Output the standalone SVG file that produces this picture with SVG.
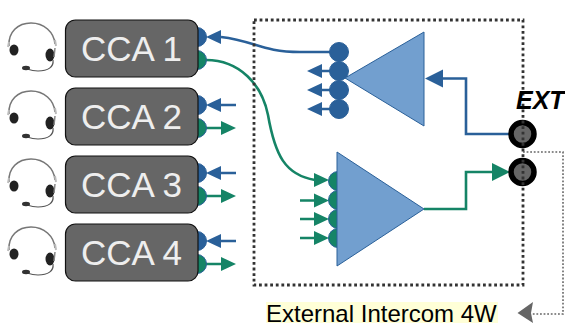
<svg xmlns="http://www.w3.org/2000/svg" width="565" height="323" viewBox="0 0 565 323">
<style>
.box{fill:#666;stroke:#111;stroke-width:1.2}
.lbl{font-family:"Liberation Sans",Arial,sans-serif;font-size:35px;fill:#eeeeee;text-anchor:middle}
.pb{fill:#2a6099;stroke:#2a6099;stroke-width:1}
.pg{fill:#158466;stroke:#2a6099;stroke-width:1}
.lb{fill:none;stroke:#2a6099;stroke-width:2.6}
.lg{fill:none;stroke:#158466;stroke-width:2.6}
.ab{fill:#2a6099}
.ag{fill:#158466}
.tri{fill:#729fcf;stroke:#2a6099;stroke-width:1}
.jack{fill:#666;stroke:#000;stroke-width:5.5}
.dot{fill:none;stroke:#333;stroke-width:2.8;stroke-dasharray:2.8 2.8}
.dot2{fill:none;stroke:#666;stroke-width:1.6;stroke-dasharray:1.8 1.8}
</style>
<defs>
<g id="hs">
<path d="M9 46C8 32 18 23 31 23C44 23 54 32 55 44" fill="none" stroke="#777" stroke-width="1.6"/>
<path d="M9 42L8 47M55 40L56 46" stroke="#bbb" stroke-width="2"/>
<ellipse cx="14" cy="50" rx="4.500" ry="5.500" fill="#222"/>
<ellipse cx="50" cy="55" rx="4.500" ry="6.500" fill="#222"/>
<path d="M55 48L54 57" stroke="#888" stroke-width="1.500"/>
<path d="M53 60C54 67 48 71 38 71C33 71 30 70 27 69" fill="none" stroke="#555" stroke-width="1.200"/>
<ellipse cx="26" cy="68" rx="4" ry="2.200" fill="#333"/>
</g>
</defs>
<g id="connectors">
<path class="lb" d="M221 37C255 41 262 52 300 52H330"/>
<path class="lb" d="M221 105H236M221 173H236M221 241H236"/>
<path class="lg" d="M206 60C240 60 262 85 268 115C275 155 285 175 315 180"/>
<path class="lg" d="M206 128H221M206 196H221M206 264H221"/>
<path class="lb" d="M322 71H339M322 90H339M322 109H339"/>
<path class="lg" d="M300 200.500H315M300 219H315M300 238H315"/>
<path class="lb" d="M442 78.500H466V134H511"/>
<path class="lg" d="M424 209H466V172H493"/>
<path class="dot2" d="M523 152H563V314H532"/>
<polygon class="ab" points="206,37 221,30 221,44"/>
<polygon class="ab" points="206,105 221,98 221,112"/>
<polygon class="ab" points="206,173 221,166 221,180"/>
<polygon class="ab" points="206,241 221,234 221,248"/>
<polygon class="ag" points="236,128 221,121 221,135"/>
<polygon class="ag" points="236,196 221,189 221,203"/>
<polygon class="ag" points="236,264 221,257 221,271"/>
<polygon class="ab" points="307,71 322,64 322,78"/>
<polygon class="ab" points="307,90 322,83 322,97"/>
<polygon class="ab" points="307,109 322,102 322,116"/>
<polygon class="ag" points="329,180 314,173 314,187"/>
<polygon class="ag" points="329,200.500 314,193.500 314,207.500"/>
<polygon class="ag" points="329,219 314,212 314,226"/>
<polygon class="ag" points="329,238 314,231 314,245"/>
<polygon class="ab" points="425,78.500 443,69.500 443,87.500"/>
<polygon class="ag" points="510,172 492,163 492,181"/>
<polygon points="517.500,313 533,302 531,313 533,323" fill="#666"/>
</g>
<g id="cca1"><use href="#hs"/><circle class="pb" cx="197" cy="37" r="9.500"/><circle class="pg" cx="197" cy="60" r="9.500"/><rect class="box" x="65.500" y="20" width="132.500" height="57" rx="10"/><text class="lbl" x="131.500" y="61">CCA 1</text></g>
<g id="cca2"><use href="#hs" y="68"/><circle class="pb" cx="197" cy="105" r="9.500"/><circle class="pg" cx="197" cy="128" r="9.500"/><rect class="box" x="65.500" y="88" width="132.500" height="57" rx="10"/><text class="lbl" x="131.500" y="129">CCA 2</text></g>
<g id="cca3"><use href="#hs" y="136"/><circle class="pb" cx="197" cy="173" r="9.500"/><circle class="pg" cx="197" cy="196" r="9.500"/><rect class="box" x="65.500" y="156" width="132.500" height="57" rx="10"/><text class="lbl" x="131.500" y="197">CCA 3</text></g>
<g id="cca4"><use href="#hs" y="204"/><circle class="pb" cx="197" cy="241" r="9.500"/><circle class="pg" cx="197" cy="264" r="9.500"/><rect class="box" x="65.500" y="224" width="132.500" height="57" rx="10"/><text class="lbl" x="131.500" y="265">CCA 4</text></g>
<g id="amp-upper">
<circle class="pb" cx="339" cy="52" r="9.500"/><circle class="pb" cx="339" cy="71" r="9.500"/><circle class="pb" cx="339" cy="90" r="9.500"/><circle class="pb" cx="339" cy="109" r="9.500"/>
<polygon class="tri" points="424,32 424,126 345,78"/>
</g>
<g id="amp-lower">
<circle class="pg" cx="338" cy="181" r="9.500"/><circle class="pg" cx="338" cy="200" r="9.500"/><circle class="pg" cx="338" cy="219" r="9.500"/><circle class="pg" cx="338" cy="238" r="9.500"/>
<polygon class="tri" points="337,152 337,266 424,209"/>
</g>
<g id="ext-jack1"><circle class="jack" cx="522.500" cy="134" r="11.500"/></g>
<g id="ext-jack2"><circle class="jack" cx="522.500" cy="172" r="11.500"/></g>
<g id="dotted-frame"><rect class="dot" x="254" y="20" width="269" height="265"/></g>
<g id="labels">
<text x="516" y="109" font-family="Liberation Sans,Arial,sans-serif" font-size="25" font-weight="bold" font-style="italic" fill="#000">EXT</text>
<rect x="266" y="302" width="232" height="21" fill="#ffffd7"/>
<text x="266" y="322" font-family="Liberation Sans,Arial,sans-serif" font-size="24" fill="#000">External Intercom 4W</text>
</g>
</svg>
